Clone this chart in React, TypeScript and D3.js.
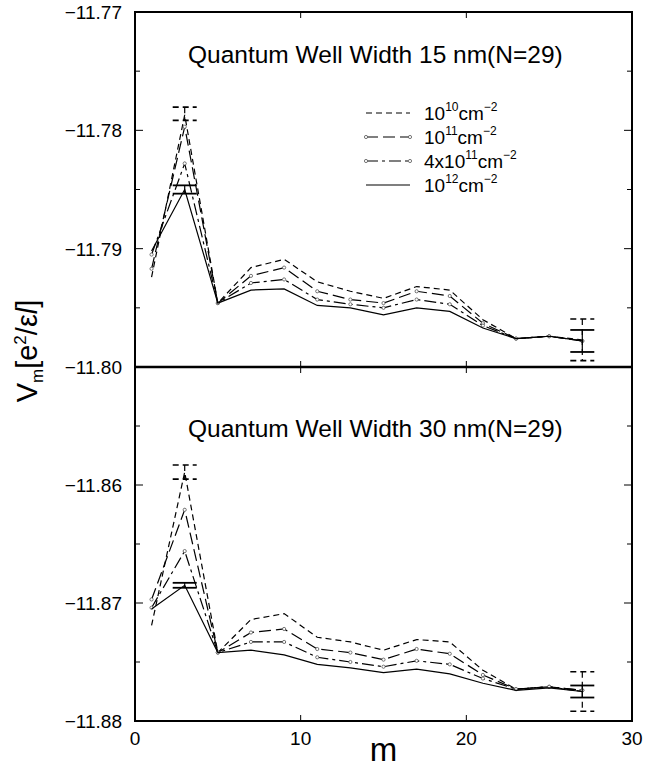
import React from 'react';
import * as d3 from 'd3';

const W = 647;
const H = 769;

// m values (angular momentum index)
const mValues = [1, 3, 5, 7, 9, 11, 13, 15, 17, 19, 21, 23, 25, 27];

// Quantum well width 15 nm
const top1e10 = [-11.7924, -11.7787, -11.7946, -11.7916, -11.7909, -11.7928, -11.7936, -11.7942, -11.7932, -11.7935, -11.7960, -11.7976, -11.7974, -11.7977];
const top1e11 = [-11.7917, -11.7797, -11.7946, -11.7923, -11.7916, -11.7936, -11.7943, -11.7946, -11.7936, -11.7940, -11.7963, -11.7976, -11.7974, -11.7978];
const top4e11 = [-11.7905, -11.7828, -11.7946, -11.7929, -11.7926, -11.7943, -11.7947, -11.7950, -11.7943, -11.7947, -11.7965, -11.7976, -11.7974, -11.7978];
const top1e12 = [-11.7902, -11.7850, -11.7946, -11.7935, -11.7934, -11.7948, -11.7950, -11.7956, -11.7950, -11.7953, -11.7967, -11.7976, -11.7974, -11.7978];

// Quantum well width 30 nm
const bot1e10 = [-11.8719, -11.8589, -11.8742, -11.8714, -11.8709, -11.8729, -11.8733, -11.8740, -11.8731, -11.8733, -11.8757, -11.8773, -11.8771, -11.8775];
const bot1e11 = [-11.8697, -11.8621, -11.8742, -11.8725, -11.8722, -11.8739, -11.8742, -11.8748, -11.8739, -11.8743, -11.8761, -11.8773, -11.8771, -11.8774];
const bot4e11 = [-11.8704, -11.8656, -11.8742, -11.8733, -11.8733, -11.8746, -11.8750, -11.8754, -11.8749, -11.8752, -11.8764, -11.8773, -11.8771, -11.8774];
const bot1e12 = [-11.8705, -11.8685, -11.8742, -11.8740, -11.8744, -11.8752, -11.8755, -11.8759, -11.8756, -11.8760, -11.8768, -11.8774, -11.8772, -11.8775];

// Error bars: [m, center, half-width]
const topErr1e10 = [[3, -11.7786, 0.00056], [27, -11.7977, 0.00176]];
const topErr1e12 = [[3, -11.7850, 0.00035], [27, -11.7978, 0.00093]];
const botErr1e10 = [[3, -11.8589, 0.00060], [27, -11.8775, 0.00167]];
const botErr1e12 = [[3, -11.8685, 0.00021], [27, -11.8775, 0.00051]];

// Tick values
const topTicks = [-11.80, -11.79, -11.78, -11.77];
const topLabels = ['−11.80', '−11.79', '−11.78', '−11.77'];
const botTicks = [-11.88, -11.87, -11.86, -11.85];
const botLabels = ['−11.88', '−11.87', '−11.86', ''];
const xTicks = [0, 10, 20, 30];
const xLabels = ['0', '10', '20', '30'];

// Legend labels
const legendPrefix = ['', '', '4x', ''];
const legendExp = ['10', '11', '11', '12'];

const titles = ['Quantum Well Width 15 nm(N=29)', 'Quantum Well Width 30 nm(N=29)'];

const styles = [
  { dash: '6,4', markers: false },
  { dash: '12,5', markers: true },
  { dash: '12,4,3,4', markers: true },
  { dash: null as string | null, markers: false },
];

const FONT = '"Liberation Sans", Arial, Helvetica, sans-serif';

export default function App() {
  const x = d3.scaleLinear().domain([0, 30]).range([135, 632]);
  const yTop = d3.scaleLinear().domain([-11.80, -11.77]).range([367, 12]);
  const yBot = d3.scaleLinear().domain([-11.88, -11.85]).range([721, 367]);

  const panels = [
    {
      y: yTop,
      series: [top1e10, top1e11, top4e11, top1e12],
      errs: [topErr1e10, topErr1e12],
      ticks: topTicks,
      labels: topLabels,
      title: titles[0],
      titleY: 63,
      legend: true,
    },
    {
      y: yBot,
      series: [bot1e10, bot1e11, bot4e11, bot1e12],
      errs: [botErr1e10, botErr1e12],
      ticks: botTicks,
      labels: botLabels,
      title: titles[1],
      titleY: 437,
      legend: false,
    },
  ];

  const x0 = x(0);
  const x1 = x(30);

  return (
    <svg
      width={W}
      height={H}
      style={{ position: 'absolute', left: 0, top: 0, background: '#fff' }}
      fontFamily={FONT}
    >
      <rect x={0} y={0} width={W} height={H} fill="#fff" />
      {panels.map((p, pi) => {
        const [ymin, ymax] = p.y.domain();
        const yTopPx = p.y(ymax);
        const yBotPx = p.y(ymin);
        const minor = d3.range(0, 7).map((i) => ymin + i * 0.005);
        const line = d3
          .line<number>()
          .x((_, i) => x(mValues[i]))
          .y((d) => p.y(d));
        return (
          <g key={pi}>
            {minor.map((v, i) => {
              const major = i % 2 === 0;
              const len = major ? 8 : 5;
              const yy = p.y(v);
              return (
                <g key={i} stroke="#000" strokeWidth={1}>
                  <line x1={x0} x2={x0 + len} y1={yy} y2={yy} />
                  <line x1={x1} x2={x1 - len} y1={yy} y2={yy} />
                </g>
              );
            })}
            {xTicks.slice(1, 3).map((t) => (
              <g key={t} stroke="#000" strokeWidth={1}>
                <line x1={x(t)} x2={x(t)} y1={yBotPx} y2={yBotPx - 6} />
                <line x1={x(t)} x2={x(t)} y1={yTopPx} y2={yTopPx + 6} />
              </g>
            ))}
            {p.ticks.map((v, i) =>
              p.labels[i] ? (
                <text
                  key={i}
                  x={122}
                  y={p.y(v)}
                  dy="0.36em"
                  textAnchor="end"
                  fontSize={19}
                  fill="#000"
                >
                  {p.labels[i]}
                </text>
              ) : null
            )}
            <text x={188} y={p.titleY} fontSize={24.5} fill="#000">
              {p.title}
            </text>
            {p.series.map((s, si) => (
              <g key={si}>
                <path
                  d={line(s) || ''}
                  fill="none"
                  stroke="#000"
                  strokeWidth={1.2}
                  strokeDasharray={styles[si].dash || undefined}
                />
                {styles[si].markers &&
                  s.map((v, i) => (
                    <circle
                      key={i}
                      cx={x(mValues[i])}
                      cy={p.y(v)}
                      r={1.6}
                      fill="#fff"
                      stroke="#555"
                      strokeWidth={0.8}
                    />
                  ))}
              </g>
            ))}
            {p.errs.map((errSet, ei) => {
              const dash = ei === 0 ? styles[0].dash : null;
              return errSet.map(([mm, c, e], i) => {
                const cx = x(mm);
                const yA = p.y(c + e);
                const yB = p.y(c - e);
                return (
                  <g
                    key={`${ei}-${i}`}
                    stroke="#000"
                    strokeWidth={ei === 0 ? 1.6 : 1.8}
                    strokeDasharray={dash || undefined}
                    fill="none"
                  >
                    <line x1={cx} x2={cx} y1={yA} y2={yB} strokeWidth={1.2} />
                    <line x1={cx - 12} x2={cx + 12} y1={yA} y2={yA} />
                    <line x1={cx - 12} x2={cx + 12} y1={yB} y2={yB} />
                  </g>
                );
              });
            })}
            {p.legend &&
              legendExp.map((ex, li) => {
                const ly = 113 + li * 24;
                return (
                  <g key={li}>
                    <line
                      x1={366}
                      x2={410}
                      y1={ly}
                      y2={ly}
                      stroke="#000"
                      strokeWidth={1.2}
                      strokeDasharray={styles[li].dash || undefined}
                    />
                    {styles[li].markers && (
                      <g fill="#fff" stroke="#555" strokeWidth={0.8}>
                        <circle cx={366} cy={ly} r={1.6} />
                        <circle cx={410} cy={ly} r={1.6} />
                      </g>
                    )}
                    <text x={424} y={ly + 7} fontSize={19} fill="#000">
                      <tspan>{legendPrefix[li] + '10'}</tspan>
                      <tspan dy={-9} fontSize={12}>
                        {ex}
                      </tspan>
                      <tspan dy={9} fontSize={19}>
                        cm
                      </tspan>
                      <tspan dy={-9} fontSize={12}>
                        −2
                      </tspan>
                    </text>
                  </g>
                );
              })}
          </g>
        );
      })}
      <rect
        x={x0}
        y={yTop(-11.77)}
        width={x1 - x0}
        height={yBot(-11.88) - yTop(-11.77)}
        fill="none"
        stroke="#000"
        strokeWidth={2}
      />
      <line x1={x0} x2={x1} y1={yTop(-11.80)} y2={yTop(-11.80)} stroke="#000" strokeWidth={2.5} />
      {xTicks.map((t, i) => (
        <text key={t} x={x(t)} y={745} textAnchor="middle" fontSize={19} fill="#000">
          {xLabels[i]}
        </text>
      ))}
      <text x={(x0 + x1) / 2} y={761} textAnchor="middle" fontSize={33} fill="#000">
        m
      </text>
      <text transform="translate(37,351) rotate(-90)" textAnchor="middle" fontSize={29} fill="#000">
        <tspan>V</tspan>
        <tspan dy={6} fontSize={17}>m</tspan>
        <tspan dy={-6}>[e</tspan>
        <tspan dy={-11} fontSize={17}>2</tspan>
        <tspan dy={11}>/ε</tspan>
        <tspan fontStyle="italic">l</tspan>
        <tspan>]</tspan>
      </text>
    </svg>
  );
}
